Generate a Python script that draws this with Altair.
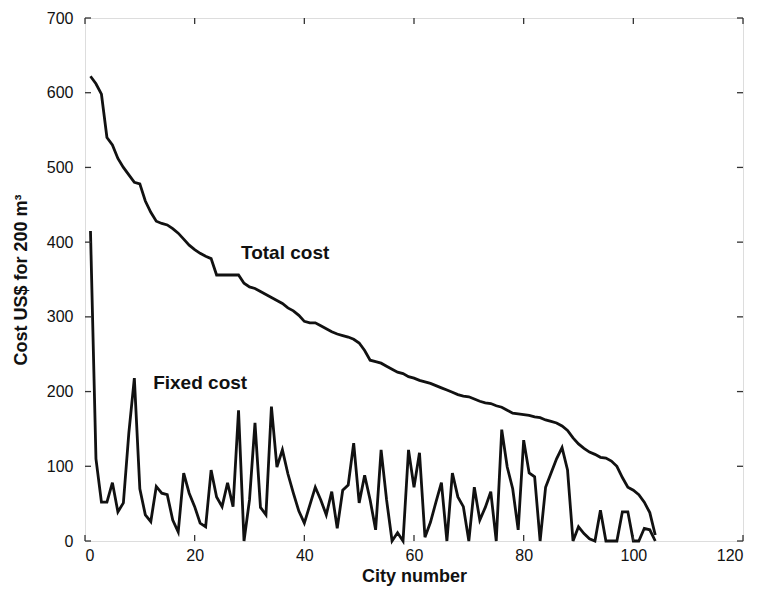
import altair as alt
import pandas as pd

city = list(range(1, 105))

total_cost = [622, 612, 598, 540, 530, 512, 500, 490, 480, 478,
              455, 440, 428, 425, 423, 418, 412, 404, 396, 390,
              385, 381, 378, 356, 356, 356, 356, 356, 345, 340,
              338, 334, 330, 326, 322, 318, 312, 308, 302, 294,
              292, 292, 288, 284, 280, 277, 275, 273, 270, 265,
              255, 242, 240, 238, 234, 230, 226, 224, 220, 218,
              215, 213, 211, 208, 205, 202, 199, 196, 194, 193,
              190, 187, 185, 184, 181, 179, 175, 171, 170, 169,
              168, 166, 165, 162, 160, 158, 154, 148, 138, 130,
              124, 119, 116, 112, 111, 107, 100, 85, 72, 68,
              62, 52, 38, 8]

fixed_cost = [415, 110, 52, 52, 78, 39, 51, 145, 218, 70,
              35, 26, 73, 64, 62, 28, 12, 91, 64, 46,
              24, 19, 95, 59, 46, 78, 46, 175, 0, 55,
              158, 45, 35, 180, 99, 122, 90, 64, 40, 24,
              48, 72, 55, 35, 66, 17, 68, 75, 131, 51,
              88, 55, 15, 122, 55, 0, 11, 0, 122, 72,
              118, 5, 25, 52, 78, 0, 91, 59, 46, 0,
              72, 28, 45, 66, 0, 149, 99, 70, 15, 135,
              91, 86, 0, 72, 91, 110, 125, 95, 0, 19,
              10, 3, 0, 41, 0, 0, 0, 39, 39, 0,
              0, 17, 15, 0]

label_text = ["Total cost", "Fixed cost"]
label_x = [36.5, 21.0]
label_y = [385, 211]

x_ticks = [0, 20, 40, 60, 80, 100, 120]
y_ticks = [0, 100, 200, 300, 400, 500, 600, 700]

FONT = "Liberation Sans"

df = pd.DataFrame({
    "city": city * 2,
    "cost": total_cost + fixed_cost,
    "series": ["Total cost"] * len(city) + ["Fixed cost"] * len(city),
})

xs = alt.Scale(domain=[0, 120], nice=False, zero=False)
ys = alt.Scale(domain=[0, 700], nice=False, zero=False)

lines = alt.Chart(df).mark_line(strokeWidth=2.8, strokeJoin="miter").encode(
    x=alt.X("city:Q", scale=xs,
            axis=alt.Axis(title="City number", values=x_ticks, grid=False, domain=False,
                          ticks=False, labelPadding=6, labelFontSize=16, labelFont=FONT,
                          labelColor="#111", titleFont=FONT, titleFontSize=18,
                          titleFontWeight="bold", titleColor="#111", titlePadding=4)),
    y=alt.Y("cost:Q", scale=ys,
            axis=alt.Axis(title="Cost US$ for 200 m³", values=y_ticks, grid=False, domain=False,
                          ticks=False, labelPadding=12, labelFontSize=16, labelFont=FONT,
                          labelColor="#111", titleFont=FONT, titleFontSize=18,
                          titleFontWeight="bold", titleColor="#111", titlePadding=16)),
    color=alt.Color("series:N", scale=alt.Scale(range=["#111111", "#111111"]), legend=None),
    detail="series:N",
)

labels_df = pd.DataFrame({"t": label_text, "x": label_x, "y": label_y})
labels = alt.Chart(labels_df).mark_text(font=FONT, fontSize=19, fontWeight="bold",
                                         color="#111", align="center", baseline="middle").encode(
    x=alt.X("x:Q", scale=xs), y=alt.Y("y:Q", scale=ys), text="t:N")

xt = pd.DataFrame({"v": x_ticks})
yt = pd.DataFrame({"v": y_ticks})
tick_style = dict(color="#333", strokeWidth=1.3)
bottom_ticks = alt.Chart(xt).mark_rule(**tick_style).encode(
    x=alt.X("v:Q", scale=xs), y=alt.datum(0), y2=alt.datum(8))
top_ticks = alt.Chart(xt).mark_rule(**tick_style).encode(
    x=alt.X("v:Q", scale=xs), y=alt.datum(700), y2=alt.datum(692))
left_ticks = alt.Chart(yt).mark_rule(**tick_style).encode(
    y=alt.Y("v:Q", scale=ys), x=alt.datum(0), x2=alt.datum(1.1))
right_ticks = alt.Chart(yt).mark_rule(**tick_style).encode(
    y=alt.Y("v:Q", scale=ys), x=alt.datum(120), x2=alt.datum(118.9))

chart = alt.layer(lines, labels, bottom_ticks, top_ticks, left_ticks, right_ticks).properties(
    width=658, height=523,
    autosize=alt.AutoSizeParams(type="none"),
    padding={"left": 77, "top": 10, "right": 13, "bottom": 46},
).configure_view(stroke="#333", strokeWidth=1.6).configure(background="white")

chart.save("out.html", embed_options={"renderer": "svg", "actions": False})
